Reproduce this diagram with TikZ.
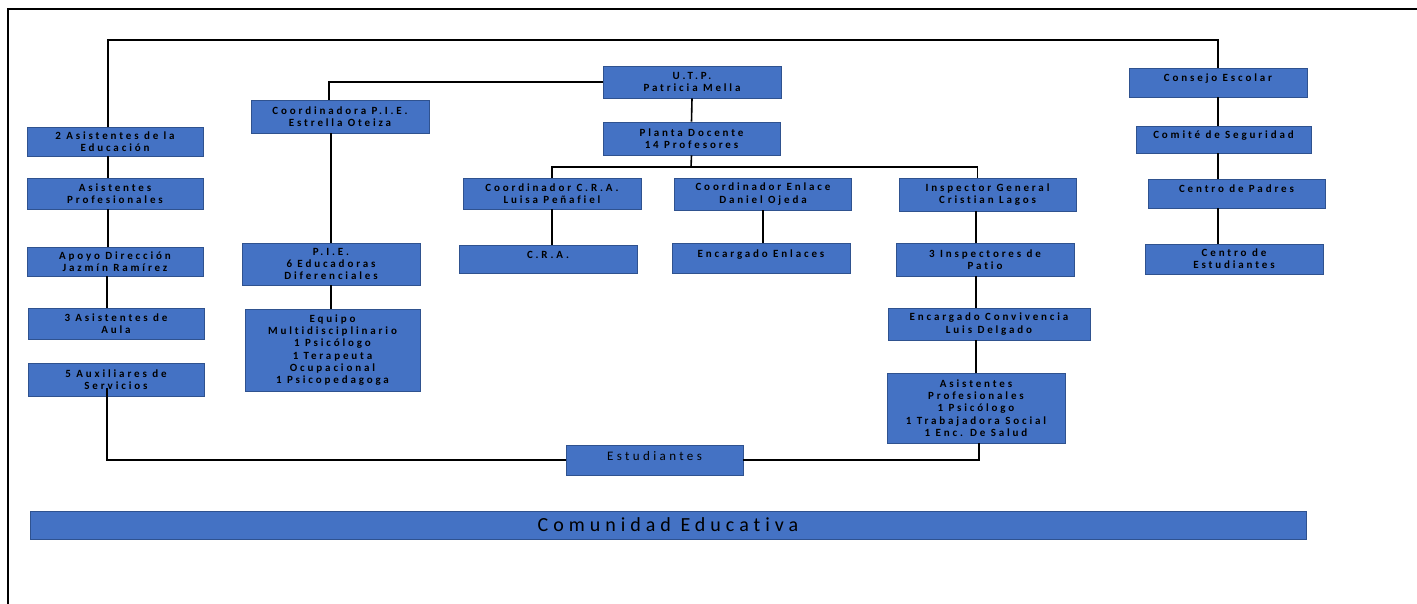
\documentclass[tikz,border=0pt]{standalone}
\usepackage{fontspec}
\setmainfont{Carlito}
\newfontfamily\boxfont[LetterSpace=26,Ligatures=NoCommon]{Carlito}
\newfontfamily\bandfont[LetterSpace=25,Ligatures=NoCommon]{Carlito}
\definecolor{unitblue}{HTML}{4472C4}
\definecolor{unitedge}{HTML}{2F528F}

\begin{document}
\begin{tikzpicture}[x=1pt, y=-1pt]
        \tikzstyle{unit}=[draw=unitedge,fill=unitblue,line width=0.8pt,inner sep=1pt,align=center,font=\boxfont\bfseries\fontsize{11}{12.3}\selectfont]
        \tikzstyle{upper}=[text depth=9pt]
        \tikzstyle{link}=[line width=1.6pt]

        \useasboundingbox (0,0) rectangle (1417,604);
        \draw[line width=2.5pt] (8,604) -- (8,9) -- (1417,9);

        % left column
        \node[unit,minimum width=176,minimum height=29] (asisEdu)   at (115,141.5) {2 Asistentes de la\\Educación};
        \node[unit,minimum width=176,minimum height=31] (asisProf)  at (115,193.5) {Asistentes\\Profesionales};
        \node[unit,minimum width=176,minimum height=29] (apoyo)     at (115,261.5) {Apoyo Dirección\\Jazmín Ramírez};
        \node[unit,minimum width=176,minimum height=31] (asisAula)  at (116,323.5) {3 Asistentes de\\Aula};
        \node[unit,minimum width=176,minimum height=33] (auxServ)   at (116,379.5) {5 Auxiliares de\\Servicios};

        % P.I.E.
        \node[unit,minimum width=178,minimum height=33] (coordPIE)  at (340,116.5) {Coordinadora P.I.E.\\Estrella Oteiza};
        \node[unit,minimum width=178,minimum height=42] (pie)       at (331,264)   {P.I.E.\\6 Educadoras\\Diferenciales};
        \node[unit,minimum width=175,minimum height=82] (equipo)    at (332.5,350) {Equipo\\Multidisciplinario\\1 Psicólogo\\1 Terapeuta\\Ocupacional\\1 Psicopedagoga};

        % centre
        \node[unit,minimum width=178,minimum height=32] (utp)       at (692,82)    {U.T.P.\\Patricia Mella};
        \node[unit,minimum width=177,minimum height=33] (planta)    at (691.5,138.5) {Planta Docente\\14 Profesores};
        \node[unit,minimum width=178,minimum height=31] (coordCRA)  at (552,193.5) {Coordinador C.R.A.\\Luisa Peñafiel};
        \node[unit,minimum width=177,minimum height=32] (coordEnl)  at (763,194) {Coordinador Enlace\\Daniel Ojeda};
        \node[unit,upper,minimum width=178,minimum height=28] (cra)    at (548,259) {C.R.A.};
        \node[unit,upper,minimum width=178,minimum height=30] (encEnl) at (761,258) {Encargado Enlaces};

        % inspectoria
        \node[unit,minimum width=177,minimum height=33] (inspGen)   at (987.5,194.5) {Inspector General\\Cristian Lagos};
        \node[unit,minimum width=178,minimum height=33] (inspPatio) at (985,259.5) {3 Inspectores de\\Patio};
        \node[unit,minimum width=202,minimum height=32] (convive)   at (989,324)   {Encargado Convivencia\\Luis Delgado};
        \node[unit,minimum width=178,minimum height=70] (asisProfB) at (976,408)   {Asistentes\\Profesionales\\1 Psicólogo\\1 Trabajadora Social\\1 Enc. De Salud};

        % right column
        \node[unit,upper,minimum width=178,minimum height=29] (consejo) at (1218,82.5)  {Consejo Escolar};
        \node[unit,upper,minimum width=175,minimum height=27] (comite)  at (1223.5,139.5) {Comité de Seguridad};
        \node[unit,upper,minimum width=177,minimum height=29] (padres)  at (1236.5,193.5) {Centro de Padres};
        \node[unit,minimum width=178,minimum height=30] (centroEst) at (1234,259)  {Centro de\\Estudiantes};

        % bottom
        \node[unit,upper,minimum width=177,minimum height=30,font=\boxfont\fontsize{13}{15}\selectfont] (estud) at (654.5,460) {Estudiantes};
        \node[unit,minimum width=1276,minimum height=28,font=\bandfont\fontsize{20}{22}\selectfont] (comunidad) at (668,525) {Comunidad Educativa};

        \coordinate (topline) at (1218,40);
        \coordinate (split) at (691,167);

        \draw[link] ([xshift=-7]asisEdu.north) |- (topline) -- (consejo.north);
        \draw[link] ([xshift=-7]asisEdu.south) -- ([xshift=-7]asisProf.north);
        \draw[link] ([xshift=-7]asisProf.south) -- ([xshift=-7]apoyo.north);
        \draw[link] ([xshift=-8]apoyo.south) -- ([xshift=-9]asisAula.north);
        \draw[link] ([xshift=-9,yshift=8]auxServ.south) |- (estud.west);

        \draw[link] ([xshift=-11]coordPIE.north) |- (utp.west);
        \draw[link] (coordPIE.south -| pie.north) -- (pie.north);
        \draw[link] (pie.south) -- (equipo.north -| pie.south);

        \draw[link] (utp.south) -- (planta.north);
        \draw[link] (planta.south) -- (split);
        \draw[link] (coordCRA.north) |- (split) -| ([xshift=-10]inspGen.north);
        \draw[link] (coordCRA.south) -- (cra.north -| coordCRA.south);
        \draw[link] (coordEnl.south) -- (encEnl.north -| coordEnl.south);

        \draw[link] (inspGen.south -| asisProfB.north) -- (inspPatio.north -| asisProfB.north);
        \draw[link] (inspPatio.south -| asisProfB.north) -- (convive.north -| asisProfB.north);
        \draw[link] (convive.south -| asisProfB.north) -- (asisProfB.north);
        \draw[link] ([xshift=3]asisProfB.south) |- (estud.east);

        \draw[link] (consejo.south) -- (comite.north -| consejo.south);
        \draw[link] (comite.south -| consejo.south) -- (padres.north -| consejo.south);
        \draw[link] (padres.south -| consejo.south) -- (centroEst.north -| consejo.south);
    \end{tikzpicture}
\end{document}
